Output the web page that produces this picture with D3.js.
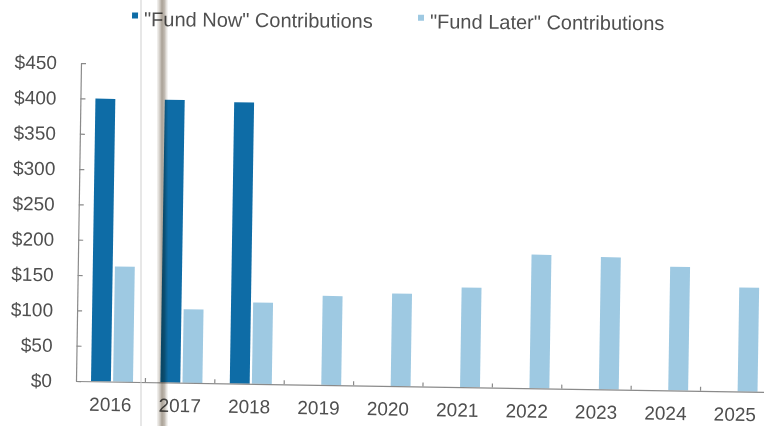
<!DOCTYPE html>
<html>
<head>
<meta charset="utf-8">
<script src="https://cdn.jsdelivr.net/npm/d3@7"></script>
<style>
  html, body { margin: 0; padding: 0; background: #ffffff; }
  svg { display: block; font-family: "Liberation Sans", Arial, sans-serif; }
</style>
</head>
<body>
<svg id="chart" width="764" height="426"></svg>
<script>
// Annual contributions under the two funding approaches
const years = ["2016", "2017", "2018", "2019", "2020", "2021", "2022", "2023", "2024", "2025"];
const fundNowYears = ["2016", "2017", "2018"];
const fundNow = [400, 400, 398];
const fundLater = [163, 104, 115, 126, 131, 141, 189, 187, 175, 147];
const yTicks = [0, 50, 100, 150, 200, 250, 300, 350, 400, 450];
const seriesNames = ["\"Fund Now\" Contributions", "\"Fund Later\" Contributions"];

const colors = { now: "#0e6ca6", later: "#9ec9e2" };
const textColor = "#4f4f4f";
const axisColor = "#8a8a8a";

const svg = d3.select("#chart");

const origin = { x: 76, y: 381 };
const x = d3.scaleBand().domain(years).range([origin.x, 770]).padding(0);
const y = d3.scaleLinear().domain([0, 450]).range([origin.y, 63]);
const sub = d3.scaleBand().domain(["now", "later"]).range([15, 57]).paddingInner(0.1);

// plot area, slightly skewed on the page
const plot = svg.append("g")
  .attr("transform", `rotate(0.9, ${origin.x}, ${origin.y})`);

// bars
plot.append("g").selectAll("rect")
  .data(fundNowYears.map((yr, i) => ({ yr, v: fundNow[i] })))
  .join("rect")
  .attr("x", d => x(d.yr) + sub("now"))
  .attr("width", sub.bandwidth())
  .attr("y", d => y(d.v))
  .attr("height", d => y(0) - y(d.v))
  .attr("fill", colors.now);

plot.append("g").selectAll("rect")
  .data(years.map((yr, i) => ({ yr, v: fundLater[i] })))
  .join("rect")
  .attr("x", d => x(d.yr) + sub("later"))
  .attr("width", sub.bandwidth())
  .attr("y", d => y(d.v))
  .attr("height", d => y(0) - y(d.v))
  .attr("fill", colors.later);

// y axis
const yAxis = plot.append("g")
  .attr("transform", `translate(${origin.x},0)`)
  .call(d3.axisLeft(y).tickValues(yTicks).tickFormat(d => "$" + d)
    .tickSizeInner(-5).tickSizeOuter(0).tickPadding(24));
yAxis.select(".domain").attr("stroke", axisColor).attr("stroke-width", 1.2);
yAxis.selectAll(".tick line").attr("stroke", axisColor).attr("stroke-width", 1.2);
yAxis.selectAll(".tick text").attr("fill", textColor).style("font-size", "19px");

// x axis
const xAxis = plot.append("g")
  .attr("transform", `translate(0,${origin.y})`)
  .call(d3.axisBottom(x).tickSize(0).tickPadding(16));
xAxis.select(".domain").attr("stroke", axisColor).attr("stroke-width", 1.2);
xAxis.selectAll(".tick text").attr("fill", textColor).style("font-size", "19px");

// short inner ticks between the year groups
plot.append("g").selectAll("line")
  .data(years.slice(1))
  .join("line")
  .attr("x1", d => x(d)).attr("x2", d => x(d))
  .attr("y1", origin.y).attr("y2", origin.y - 4)
  .attr("stroke", axisColor).attr("stroke-width", 1.2);

// legend
const legend = svg.append("g").attr("transform", "rotate(0.45, 132, 19)");
const legendItems = [
  { name: seriesNames[0], color: colors.now, x: 132 },
  { name: seriesNames[1], color: colors.later, x: 418 }
];
const li = legend.selectAll("g").data(legendItems).join("g")
  .attr("transform", d => `translate(${d.x},0)`);
li.append("rect").attr("x", 0).attr("y", 12.5).attr("width", 6).attr("height", 6)
  .attr("fill", d => d.color);
li.append("text").attr("x", 12).attr("y", 26)
  .attr("fill", textColor).style("font-size", "20px")
  .text(d => d.name);

// paper crease overlay
const defs = svg.append("defs");
const grad = defs.append("linearGradient").attr("id", "crease")
  .attr("x1", "0%").attr("x2", "100%");
grad.append("stop").attr("offset", "0%").attr("stop-color", "#b8b0a4").attr("stop-opacity", 0.15);
grad.append("stop").attr("offset", "45%").attr("stop-color", "#9a9083").attr("stop-opacity", 0.85);
grad.append("stop").attr("offset", "70%").attr("stop-color", "#a79e92").attr("stop-opacity", 0.7);
grad.append("stop").attr("offset", "100%").attr("stop-color", "#c8c2b8").attr("stop-opacity", 0.1);
svg.append("rect").attr("x", 157).attr("y", 0).attr("width", 11).attr("height", 426)
  .attr("fill", "url(#crease)").style("mix-blend-mode", "multiply");
svg.append("line").attr("x1", 141).attr("x2", 141).attr("y1", 0).attr("y2", 426)
  .attr("stroke", "#cfcfcf").attr("stroke-width", 1);
</script>
</body>
</html>
